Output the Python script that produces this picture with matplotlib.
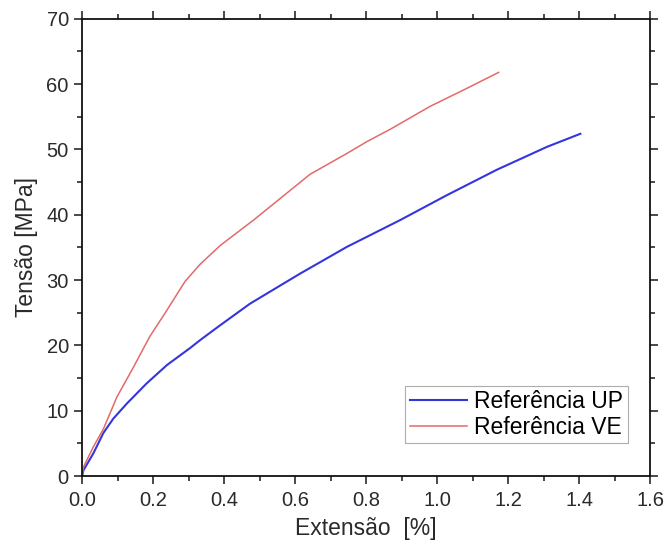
import matplotlib
matplotlib.use("Agg")
from matplotlib import pyplot as plt
from matplotlib.ticker import MultipleLocator, FormatStrFormatter

plt.rcParams["font.family"] = ["Liberation Sans", "DejaVu Sans"]

# Referência UP (blue)
up_x = [0.0, 0.004, 0.032, 0.06, 0.088, 0.126, 0.182, 0.239, 0.304, 0.332, 0.384,
        0.473, 0.614, 0.746, 0.896, 1.027, 1.168, 1.309, 1.403]
up_y = [0.0, 0.9, 3.5, 6.6, 8.8, 11.1, 14.2, 17.0, 19.6, 20.8, 22.9,
        26.4, 31.0, 35.1, 39.2, 43.0, 46.9, 50.4, 52.4]

# Referência VE (red)
ve_x = [0.0, 0.004, 0.032, 0.06, 0.098, 0.145, 0.19, 0.239, 0.29, 0.332, 0.389,
        0.483, 0.558, 0.642, 0.746, 0.802, 0.868, 0.98, 1.074, 1.173]
ve_y = [0.0, 1.4, 4.5, 7.2, 12.1, 16.7, 21.3, 25.4, 29.8, 32.4, 35.3,
        39.2, 42.5, 46.2, 49.4, 51.2, 53.1, 56.6, 59.1, 61.8]

fig = plt.figure(figsize=(6.67, 5.53), dpi=100)
ax = fig.add_axes([0.123, 0.139, 0.852, 0.827])

ax.plot(up_x, up_y, color="#3535dc", lw=1.5, label="Referência UP")
ax.plot(ve_x, ve_y, color="#e36a6a", lw=1.1, label="Referência VE")

ax.set_xlim(0, 1.6)
ax.set_ylim(0, 70)
ax.xaxis.set_major_locator(MultipleLocator(0.2))
ax.xaxis.set_minor_locator(MultipleLocator(0.1))
ax.yaxis.set_major_locator(MultipleLocator(10))
ax.yaxis.set_minor_locator(MultipleLocator(5))
ax.xaxis.set_major_formatter(FormatStrFormatter("%.1f"))

ax.tick_params(which="both", direction="out", top=True, right=True,
               labelsize=14.5, colors="#2a2a2a", width=1.2)
ax.tick_params(which="major", length=6)
ax.tick_params(which="minor", length=3.5)
ax.tick_params(axis="x", pad=5)
for s in ax.spines.values():
    s.set_linewidth(1.3)
    s.set_color("#111111")

ax.set_xlabel("Extensão  [%]", fontsize=16.5, color="#2a2a2a", labelpad=5)
ax.set_ylabel("Tensão [MPa]", fontsize=16.5, color="#2a2a2a", labelpad=6)

leg = ax.legend(loc="lower right", bbox_to_anchor=(0.96, 0.072), fontsize=16.5,
                frameon=True, fancybox=False, handlelength=2.5, borderpad=0.2,
                labelspacing=0.1, handletextpad=0.3, borderaxespad=0)
leg.get_frame().set_edgecolor("#999999")
leg.get_frame().set_linewidth(0.8)

fig.savefig("out.png", dpi=100)
